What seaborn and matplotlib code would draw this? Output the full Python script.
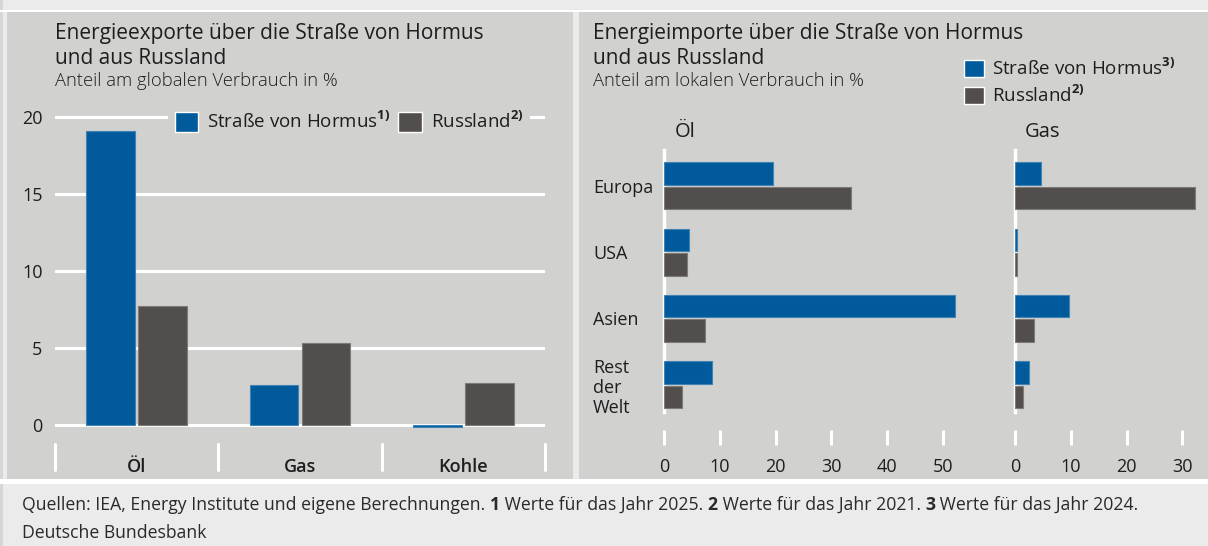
import matplotlib
matplotlib.use("Agg")
import matplotlib.pyplot as plt
from matplotlib.patches import Rectangle
import numpy as np
import pandas as pd
import seaborn as sns

# Daten: Exporte (Anteil am globalen Verbrauch in %)
export_kategorien = ["Öl", "Gas", "Kohle"]
export_hormus = [19.1, 2.6, -0.1]
export_russland = [7.7, 5.3, 2.7]

# Daten: Importe (Anteil am lokalen Verbrauch in %)
regionen = ["Europa", "USA", "Asien", "Rest\nder\nWelt"]
oel_hormus = [19.6, 4.4, 52.1, 8.6]
oel_russland = [33.6, 4.1, 7.3, 3.3]
gas_hormus = [4.6, 0.3, 9.6, 2.5]
gas_russland = [32.3, 0.3, 3.4, 1.5]
oel_ticks = [0, 10, 20, 30, 40, 50]
gas_ticks = [0, 10, 20, 30]
export_ticks = [0, 5, 10, 15, 20]

quellen = ["Straße von Hormus", "Russland"]
BLAU = "#005a9b"
GRAU = "#524e4b"
PANEL = "#d1d1cf"
HELL = "#ebebeb"
TEXT = "#1e1e1e"

sns.set_theme(style="white")
plt.rcParams["font.family"] = ["Open Sans", "DejaVu Sans"]
plt.rcParams["mathtext.fontset"] = "custom"
plt.rcParams["mathtext.rm"] = "Open Sans"
plt.rcParams["mathtext.bf"] = "Open Sans:bold"
plt.rcParams["text.color"] = TEXT
plt.rcParams["xtick.color"] = TEXT
plt.rcParams["ytick.color"] = TEXT

W, H = 1208, 546
fig = plt.figure(figsize=(W / 100, H / 100), dpi=100, facecolor=HELL)


def px_axes(x0, y0, x1, y1):
    # Pixelkoordinaten (oben links = 0,0) -> Figure-Koordinaten
    ax = fig.add_axes([x0 / W, 1 - y1 / H, (x1 - x0) / W, (y1 - y0) / H])
    ax.set_zorder(2)
    return ax


def px_rect(x0, y0, x1, y1, color):
    fig.patches.append(Rectangle((x0 / W, 1 - y1 / H), (x1 - x0) / W, (y1 - y0) / H,
                                 transform=fig.transFigure, facecolor=color,
                                 edgecolor="none", zorder=-5))


def px_text(x, y, s, **kw):
    return fig.text(x / W, 1 - y / H, s, **kw)


def helle_kanten(ax):
    # leicht aufgehellter Rand um die Balken wie im Original
    for p in ax.patches:
        fc = np.array(p.get_facecolor()[:3])
        p.set_edgecolor(tuple(fc + (1 - fc) * 0.25))
        p.set_linewidth(0.8)


# Hintergrundflächen
px_rect(0, 0, 3, H, "#d6d6d6")
px_rect(0, 10, W, 12, "white")
px_rect(7, 12, 573, 479, PANEL)
px_rect(579, 12, W, 479, PANEL)
px_rect(0, 479, W, 484, "white")

# ---------------- linkes Diagramm ----------------
df_export = pd.DataFrame({
    "Energie": export_kategorien * 2,
    "Wert": export_hormus + export_russland,
    "Quelle": [quellen[0]] * 3 + [quellen[1]] * 3,
})

ppu = 15.4
y0 = 425
ax1 = px_axes(55, y0 - 20.8 * ppu, 545, y0 + 0.4 * ppu)
ax1.set_facecolor("none")
sns.barplot(data=df_export, x="Energie", y="Wert", hue="Quelle",
            palette=[BLAU, GRAU], width=0.64, gap=0.07, ax=ax1,
            saturation=1, legend=False, zorder=3)
helle_kanten(ax1)
ax1.set_xlim(-0.5, 2.5)
ax1.set_ylim(-0.4, 20.8)
for v in export_ticks:
    ax1.axhline(v, color="white", lw=2.2, zorder=1)
for s in ax1.spines.values():
    s.set_visible(False)
ax1.set_yticks(export_ticks)
ax1.set_yticklabels([str(v) for v in export_ticks], fontsize=13)
ax1.tick_params(axis="y", length=0, pad=9)
ax1.set_xticks(range(3))
ax1.set_xticklabels(export_kategorien, fontsize=13, fontweight="semibold")
ax1.tick_params(axis="x", length=0, pad=19)
ax1.set_xlabel("")
ax1.set_ylabel("")
for xs in [-0.5, 0.5, 1.5, 2.5]:
    ax1.plot([xs, xs], [-0.04, -0.12], transform=ax1.get_xaxis_transform(),
             color="white", lw=2.2, clip_on=False)

handles1 = [Rectangle((0, 0), 1, 1, facecolor=BLAU), Rectangle((0, 0), 1, 1, facecolor=GRAU)]
ax1.legend(handles1, ["Straße von Hormus$^{\\mathbf{1)}}$", "Russland$^{\\mathbf{2)}}$"],
           ncol=2, loc="upper left", bbox_to_anchor=(168 / W, 1 - 104 / H),
           bbox_transform=fig.transFigure, frameon=True, facecolor=PANEL,
           edgecolor="none", framealpha=1, fontsize=13.5, handlelength=1.25,
           handleheight=1.25, handletextpad=0.5, columnspacing=0.4,
           borderpad=0.35, borderaxespad=0)

px_text(55, 23, "Energieexporte über die Straße von Hormus\nund aus Russland",
        fontsize=15, va="top", linespacing=1.28)
px_text(55, 72, "Anteil am globalen Verbrauch in %", fontsize=13.2,
        va="top", fontweight="light")

# ---------------- rechtes Diagramm ----------------
df_oel = pd.DataFrame({
    "Region": regionen * 2,
    "Wert": oel_hormus + oel_russland,
    "Quelle": [quellen[0]] * 4 + [quellen[1]] * 4,
})
df_gas = pd.DataFrame({
    "Region": regionen * 2,
    "Wert": gas_hormus + gas_russland,
    "Quelle": [quellen[0]] * 4 + [quellen[1]] * 4,
})

xppu = 5.58
ax_oel = px_axes(664, 150, 664 + 55 * xppu, 412)
ax_gas = px_axes(1015, 150, 1015 + 33 * xppu, 412)
for ax, df, lim, ticks in [(ax_oel, df_oel, 55, oel_ticks), (ax_gas, df_gas, 33, gas_ticks)]:
    ax.set_facecolor("none")
    sns.barplot(data=df, y="Region", x="Wert", hue="Quelle", orient="h",
                palette=[BLAU, GRAU], width=0.74, gap=0.08, ax=ax,
                saturation=1, legend=False, zorder=3)
    helle_kanten(ax)
    ax.set_xlim(0, lim)
    ax.set_ylim(3.41, -0.54)
    for s in ["top", "right"]:
        ax.spines[s].set_visible(False)
    ax.spines["left"].set_color("white")
    ax.spines["left"].set_linewidth(2.5)
    ax.spines["left"].set_zorder(2)
    ax.spines["bottom"].set_visible(False)
    ax.spines["bottom"].set_position(("outward", 13))
    ax.set_xticks(ticks)
    ax.set_xticklabels([str(t) for t in ticks], fontsize=13)
    ax.tick_params(axis="x", bottom=True, direction="out", length=11,
                   width=2.2, color="white", labelcolor=TEXT, pad=9)
    ax.set_xlabel("")
    ax.set_ylabel("")

ax_oel.set_yticks(range(4))
ax_oel.set_yticklabels(regionen, fontsize=13, ha="left", linespacing=1.15)
ax_oel.tick_params(axis="y", length=0, pad=71 * 0.72)
ax_gas.set_yticks([])

px_text(685, 132, "Öl", fontsize=14.5, ha="center", va="center")
px_text(1043, 132, "Gas", fontsize=14.5, ha="center", va="center")

handles2 = [Rectangle((0, 0), 1, 1, facecolor=BLAU), Rectangle((0, 0), 1, 1, facecolor=GRAU)]
fig.legend(handles2, ["Straße von Hormus$^{\\mathbf{3)}}$", "Russland$^{\\mathbf{2)}}$"],
           ncol=1, loc="upper left", bbox_to_anchor=(955 / W, 1 - 48 / H),
           frameon=False, fontsize=13.5, handlelength=1.05, handleheight=1.05,
           handletextpad=0.45, labelspacing=0.3, borderpad=0)

px_text(593, 23, "Energieimporte über die Straße von Hormus\nund aus Russland",
        fontsize=15, va="top", linespacing=1.28)
px_text(593, 72, "Anteil am lokalen Verbrauch in %", fontsize=13.2,
        va="top", fontweight="light")

# ---------------- Fußnote ----------------
teile = [
    ("Quellen: IEA, Energy Institute und eigene Berechnungen. ", "normal"),
    ("1", "bold"), (" Werte für das Jahr 2025. ", "normal"),
    ("2", "bold"), (" Werte für das Jahr 2021. ", "normal"),
    ("3", "bold"), (" Werte für das Jahr 2024.", "normal"),
]
renderer = fig.canvas.get_renderer()
x = 22
for s, w in teile:
    t = px_text(x, 505, s, fontsize=12.7, fontweight=w, va="center", color="#2a2a2a")
    x += t.get_window_extent(renderer).width
px_text(22, 533, "Deutsche Bundesbank", fontsize=12.7, va="center", color="#2a2a2a")

fig.savefig("out.png", dpi=100, facecolor=HELL)
